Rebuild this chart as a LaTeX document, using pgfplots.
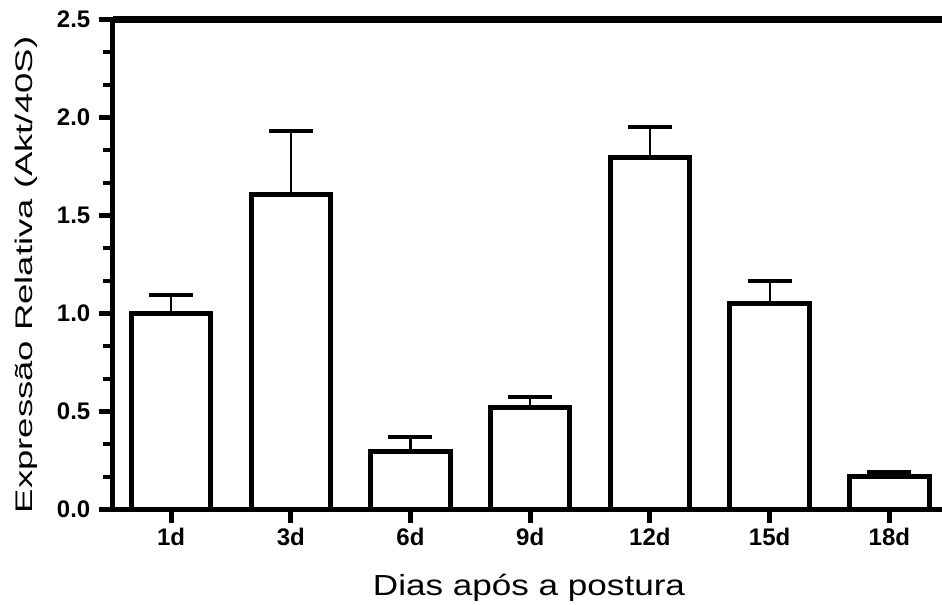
\documentclass[border=0pt]{standalone}
\usepackage{pgfplots}
\pgfplotsset{compat=1.18}
\usepackage{fontspec}
\setmainfont{Liberation Sans}
\begin{document}
\begin{tikzpicture}
\begin{axis}[
  scale only axis, width=829bp, height=490bp,
  xmin=-0.485, xmax=6.44, ymin=0, ymax=2.5,
  axis x line*=bottom, axis y line*=left,
  axis line style={line width=5bp, black},
  ybar, bar width=0.664,
  xtick={0,1,2,3,4,5,6},
  xticklabels={1d,3d,6d,9d,12d,15d,18d},
  ytick={0,0.5,1,1.5,2,2.5},
  minor y tick num=2,
  tick align=outside,
  major tick length=13.5bp, minor tick length=10bp,
  major tick style={line width=5bp, black},
  minor tick style={line width=3.5bp, black},
  /pgf/number format/assume math mode=true,
  ticklabel style={font=\fontsize{24bp}{24bp}\selectfont\bfseries, inner sep=0pt},
  yticklabel style={/pgf/number format/fixed, /pgf/number format/fixed zerofill, /pgf/number format/precision=1, xshift=-9bp},
  xticklabel style={yshift=-5bp},
  clip=false,
]
\addplot[draw=black, fill=white, line width=5bp,
  error bars/.cd, y dir=plus, y explicit, error mark=|,
  error bar style={line width=2.2bp, black},
  error mark options={line width=4bp, mark size=22bp, black}]
  coordinates {
  (0,1.001) +- (0,0.093)
  (1,1.605) +- (0,0.328)
  (2,0.295) +- (0,0.073)
  (3,0.518) +- (0,0.056)
  (4,1.797) +- (0,0.156)
  (5,1.052) +- (0,0.114)
  (6,0.167) +- (0,0.024)
  };
\draw[line width=6.5bp, black] (rel axis cs:0,1) -- (rel axis cs:1,1);
\node[anchor=base, inner sep=0pt, font=\fontsize{29bp}{29bp}\selectfont] at (rel axis cs:0.5018,-0.1745) {\scalebox{1.21}[1]{Dias após a postura}};
\node[rotate=90, anchor=base, inner sep=0pt, font=\fontsize{24bp}{24bp}\selectfont] at (rel axis cs:-0.0977,0.4786) {\scalebox{1.52}[1]{Expressão Relativa (Akt/40S)}};
\coordinate (bl) at (rel axis cs:0,0);
\coordinate (tr) at (rel axis cs:1,1);
\end{axis}
\pgfresetboundingbox
\path[use as bounding box] ([xshift=-113bp,yshift=-95.5bp]bl) rectangle ([yshift=19.5bp]tr);
\end{tikzpicture}
\end{document}
